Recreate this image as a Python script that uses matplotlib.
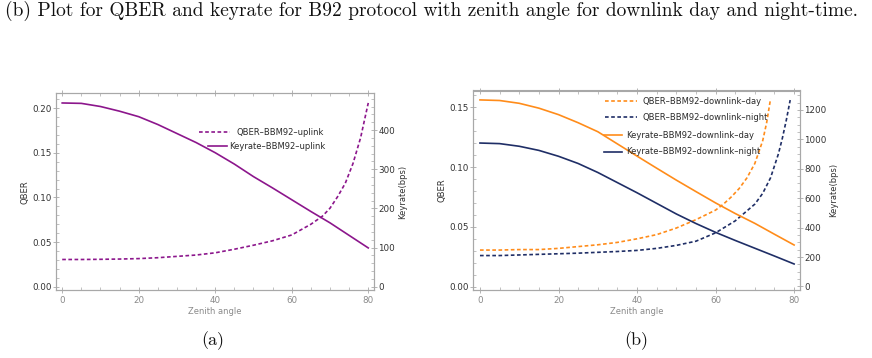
import matplotlib
matplotlib.use("Agg")
import matplotlib.pyplot as plt
from matplotlib.ticker import MultipleLocator, FormatStrFormatter
from matplotlib.lines import Line2D
from matplotlib.legend import Legend

# ---------------- data ----------------
angles = [0, 5, 10, 15, 20, 25, 30, 35, 40, 45, 50, 55, 60, 65, 68, 70, 72, 74, 76, 78, 80]
qber_up = [0.0305, 0.0305, 0.0307, 0.031, 0.0315, 0.0325, 0.034, 0.0355, 0.038, 0.042,
           0.0465, 0.0515, 0.058, 0.070, 0.079, 0.088, 0.101, 0.116, 0.138, 0.167, 0.206]

angles_k = [0, 5, 10, 15, 20, 25, 30, 35, 40, 45, 50, 55, 60, 65, 70, 75, 80]
key_up = [469, 468, 460, 448, 434, 414, 391, 368, 342, 313, 281, 252, 222, 192, 163, 131, 99]

angles_day = [0, 5, 10, 15, 20, 25, 30, 35, 40, 45, 50, 55, 60, 62, 64, 66, 68, 70, 72, 73, 74]
qber_day = [0.0306, 0.0306, 0.031, 0.031, 0.032, 0.0335, 0.035, 0.037, 0.040, 0.0435,
            0.049, 0.056, 0.064, 0.069, 0.075, 0.082, 0.091, 0.103, 0.122, 0.137, 0.157]

angles_night = [0, 5, 10, 15, 20, 25, 30, 35, 40, 45, 50, 55, 60, 65, 70, 72, 74, 76, 77, 78, 79]
qber_night = [0.026, 0.026, 0.0265, 0.027, 0.0275, 0.028, 0.0287, 0.0294, 0.0303, 0.032,
              0.0345, 0.038, 0.045, 0.055, 0.069, 0.078, 0.091, 0.111, 0.124, 0.139, 0.156]

key_day = [1268, 1264, 1245, 1212, 1168, 1113, 1052, 969, 886, 804, 723, 645, 568, 496, 429, 355, 282]
key_night = [975, 971, 953, 925, 885, 836, 775, 706, 637, 565, 493, 428, 368, 313, 260, 207, 153]

title = "(b) Plot for QBER and keyrate for B92 protocol with zenith angle for downlink day and night-time."

PURPLE = "#8c168c"
ORANGE = "#ff8c1a"
NAVY = "#1f2e66"
FRAME = "#a8a8a8"

W, H = 872, 358
fig = plt.figure(figsize=(W / 100, H / 100), dpi=100)


def px_axes(x0, y0, x1, y1):
    return fig.add_axes([x0 / W, 1 - y1 / H, (x1 - x0) / W, (y1 - y0) / H])


def style(ax, ax2, yl, ymaj, ymin, y2l, y2maj, y2min, yfmt):
    ax.set_xlim(-1.7, 81.5)
    ax.set_ylim(*yl)
    ax2.set_ylim(*y2l)
    for a in (ax, ax2):
        for s in a.spines.values():
            s.set_color(FRAME)
            s.set_linewidth(0.8)
    ax.xaxis.set_major_locator(MultipleLocator(20))
    ax.xaxis.set_minor_locator(MultipleLocator(5))
    ax.yaxis.set_major_locator(MultipleLocator(ymaj))
    ax.yaxis.set_minor_locator(MultipleLocator(ymin))
    ax.yaxis.set_major_formatter(FormatStrFormatter(yfmt))
    ax2.yaxis.set_major_locator(MultipleLocator(y2maj))
    ax2.yaxis.set_minor_locator(MultipleLocator(y2min))
    ax.tick_params(axis='both', which='major', direction='inout', length=4, width=0.6,
                   color=FRAME, labelsize=6.3, pad=1)
    ax.tick_params(axis='both', which='minor', direction='in', length=2, width=0.5, color=FRAME)
    ax.tick_params(axis='x', which='both', top=True, labeltop=False)
    ax.tick_params(axis='x', which='major', labelcolor='#8a8a8a', pad=2)
    ax.tick_params(axis='y', which='both', right=False, labelcolor='#333333')
    ax2.tick_params(axis='y', which='major', direction='inout', length=4, width=0.6,
                    color=FRAME, labelsize=6.3, pad=1, labelcolor='#333333')
    ax2.tick_params(axis='y', which='minor', direction='in', length=2, width=0.5, color=FRAME)


def leg(ax, handle, label, x, y, hlen, tpad):
    lg = Legend(ax, [handle], [label], loc='center left',
                bbox_to_anchor=(x / W, 1 - y / H), bbox_transform=fig.transFigure,
                frameon=False, borderpad=0, borderaxespad=0, fontsize=6,
                handlelength=hlen, handletextpad=tpad, labelcolor='#2a2a2a')
    ax.add_artist(lg)


DASH = (0, (2.2, 1.5))
LW = 1.2

# ---------------- left panel ----------------
axL = px_axes(55.7, 93.3, 374, 290)
axL2 = axL.twinx()
axL.plot(angles, qber_up, color=PURPLE, lw=LW, linestyle=DASH)
axL2.plot(angles_k, key_up, color=PURPLE, lw=LW)
style(axL, axL2, (-0.0037, 0.2168), 0.05, 0.01, (-8.4, 493.7), 100, 20, '%.2f')

leg(axL2, Line2D([], [], color=PURPLE, lw=LW, linestyle=DASH), "QBER–BBM92–uplink", 199, 132.7, 3.72, 0.72)
leg(axL2, Line2D([], [], color=PURPLE, lw=LW), "Keyrate–BBM92–uplink", 208.3, 146.7, 2.2, 0.31)

# ---------------- right panel ----------------
axR = px_axes(473.3, 90.5, 800, 290)
axR2 = axR.twinx()
axR.plot(angles_day, qber_day, color=ORANGE, lw=LW, linestyle=DASH)
axR.plot(angles_night, qber_night, color=NAVY, lw=LW, linestyle=DASH)
axR2.plot(angles_k, key_day, color=ORANGE, lw=LW)
axR2.plot(angles_k, key_night, color=NAVY, lw=LW)
style(axR, axR2, (-0.0028, 0.164), 0.05, 0.01, (-23.8, 1332), 200, 50, '%.2f')

leg(axR2, Line2D([], [], color=ORANGE, lw=LW, linestyle=DASH), "QBER–BBM92–downlink–day", 605, 101, 3.8, 0.68)
leg(axR2, Line2D([], [], color=NAVY, lw=LW, linestyle=DASH), "QBER–BBM92–downlink–night", 605, 117.7, 3.8, 0.68)
leg(axR2, Line2D([], [], color=ORANGE, lw=LW), "Keyrate–BBM92–downlink–day", 604, 135, 2.12, 0.52)
leg(axR2, Line2D([], [], color=NAVY, lw=LW), "Keyrate–BBM92–downlink–night", 604, 152, 2.12, 0.52)

# ---------------- axis labels ----------------
def ftext(x, y, s, **kw):
    fig.text(x / W, 1 - y / H, s, ha='center', va='center', **kw)

ftext(25, 192, "QBER", rotation=90, fontsize=6, color='#333333')
ftext(403, 192, "Keyrate(bps)", rotation=90, fontsize=6, color='#333333')
ftext(215, 312, "Zenith angle", fontsize=6, color='#8a8a8a')
ftext(442, 190, "QBER", rotation=90, fontsize=6, color='#333333')
ftext(834, 190, "Keyrate(bps)", rotation=90, fontsize=6, color='#333333')
ftext(637, 312, "Zenith angle", fontsize=6, color='#8a8a8a')

# ---------------- captions ----------------
fig.text(5 / W, 1 - 1 / H, title, ha='left', va='top', family='cmr10', fontsize=14, color='#111111')
ftext(213, 341, "(a)", family='cmr10', fontsize=13, color='#111111')
ftext(636, 341, "(b)", family='cmr10', fontsize=13, color='#111111')

fig.savefig("out.png", dpi=100)
